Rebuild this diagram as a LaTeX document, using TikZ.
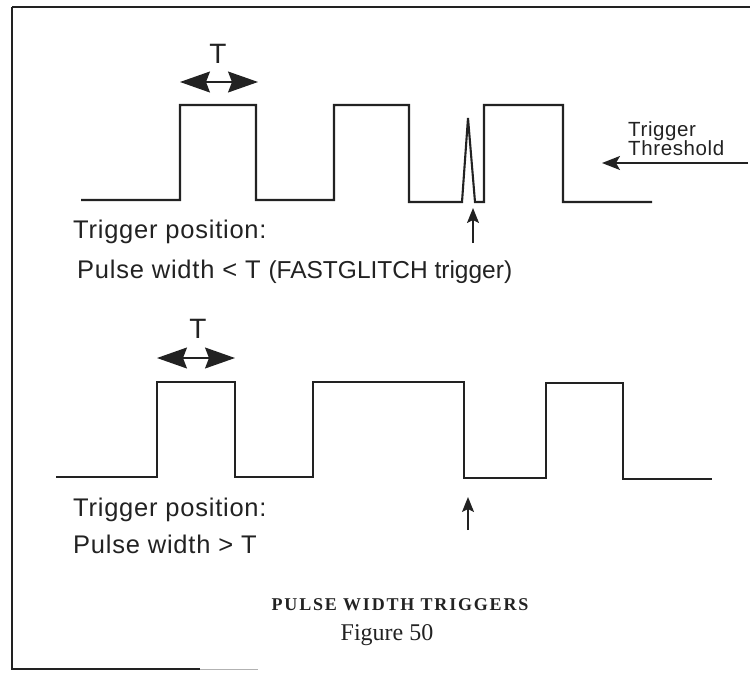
\documentclass[tikz,border=0pt]{standalone}
\usepackage{fontspec}
\setmainfont{Liberation Serif}
\newfontfamily\sigfont[LetterSpace=3]{Liberation Sans}
\newfontfamily\sigtight{Liberation Sans}
\newfontfamily\capfont[LetterSpace=10]{Liberation Serif}
\usepackage{tikz}
\usetikzlibrary{arrows.meta,positioning,calc}
\definecolor{scanblack}{HTML}{222222}

\begin{document}
\begin{tikzpicture}[
  x=1pt, y=-1pt,
  frameline/.style={draw=scanblack, line width=2pt},
  wave/.style={draw=scanblack, line width=2.1pt, line join=miter},
  widtharrow/.style={
    {Stealth[length=30pt,width=21pt,inset=4pt]}-{Stealth[length=30pt,width=21pt,inset=4pt]},
    line width=1.4pt, draw=scanblack
  },
  trigarrow/.style={-{Stealth[length=15pt,width=12pt,inset=3pt]}, line width=1.6pt, draw=scanblack},
  thrarrow/.style={-{Stealth[length=18pt,width=14pt,inset=4pt]}, line width=1.6pt, draw=scanblack},
  textlabel/.style={
    font=\sigfont\fontsize{25.5}{30}\selectfont,
    text=scanblack,
    inner sep=0pt,
    anchor=base west
  },
  tlabel/.style={font=\sigtight\fontsize{28}{30}\selectfont, text=scanblack, inner sep=0pt, anchor=base},
  thrlabel/.style={
    font=\sigfont\fontsize{20.5}{20}\selectfont,
    text=scanblack,
    align=left,
    inner sep=0pt,
    anchor=north west
  },
  caption/.style={text=scanblack, inner sep=0pt, anchor=base}
]
\useasboundingbox (0,0) rectangle (754,673);

% frame
\draw[frameline] (12,7) -- (750,7);
\draw[frameline] (12,7) -- (12,669) -- (200,669);
\draw[frameline, draw=scanblack!35, line width=1pt] (200,669) -- (258,669);

% upper waveform with glitch
\draw[wave] (81,200) -- (180,200) -- (180,105) -- (256,105) -- (256,200)
  -- (334,200) -- (334,105) -- (409,105) -- (409,202) -- (462,202)
  -- (468,118) -- (475,202) -- (484,202) -- (484,105) -- (563,105)
  -- (563,202) -- (652,202);

\node[tlabel] (tA) at (218,63) {T};
\coordinate (tA-left) at (180,82);
\coordinate (tA-right) at (258,82);
\draw[widtharrow] (tA-left) -- (tA-right);

\node[thrlabel] (thresh) at (628,121) {Trigger\\[-1pt]Threshold};
\coordinate (thr-tail) at (748,163);
\coordinate (thr-tip) at (602,163);
\draw[thrarrow] (thr-tail) -- (thr-tip);

\coordinate (trigA-tail) at (473,243);
\coordinate (trigA-tip) at (473,208);
\draw[trigarrow] (trigA-tail) -- (trigA-tip);

\node[textlabel] (posA) at (73,238) {Trigger position:};
\node[textlabel] (ruleA) at (77,278)
  {Pulse width < T {\sigtight\fontsize{24.5}{30}\selectfont(FASTGLITCH trigger)}};

% lower waveform
\draw[wave] (56,477) -- (157,477) -- (157,382) -- (235,382) -- (235,477)
  -- (313,477) -- (313,382) -- (464,382) -- (464,478) -- (546,478)
  -- (546,383) -- (623,383) -- (623,479) -- (712,479);

\node[tlabel] (tB) at (198,338) {T};
\coordinate (tB-left) at (157,358);
\coordinate (tB-right) at (235,358);
\draw[widtharrow] (tB-left) -- (tB-right);

\coordinate (trigB-tail) at (468,530);
\coordinate (trigB-tip) at (468,497);
\draw[trigarrow] (trigB-tail) -- (trigB-tip);

\node[textlabel] (posB) at (73,516) {Trigger position:};
\node[textlabel] (ruleB) at (73,553) {Pulse width > T};

\node[caption, font=\capfont\bfseries\fontsize{18}{20}\selectfont] (title) at (400,610) {PULSE WIDTH TRIGGERS};
\node[caption, font=\fontsize{24}{26}\selectfont] (fignum) at (387,640) {Figure 50};
\end{tikzpicture}
\end{document}
